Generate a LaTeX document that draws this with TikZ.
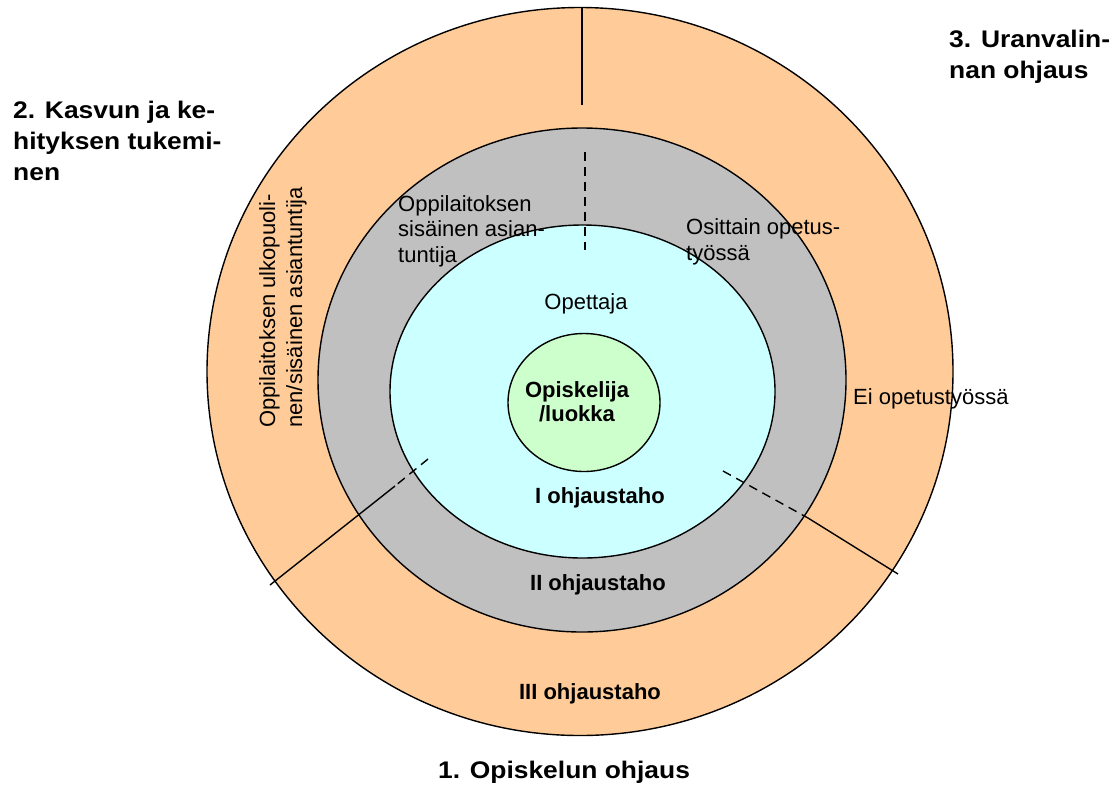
\documentclass[tikz,border=0pt]{standalone}
\usepackage{fontspec}
\setmainfont{Liberation Sans}
\newfontfamily\headfont[FakeStretch=1.1]{Liberation Sans}
\definecolor{ringorange}{HTML}{FFCC99}
\definecolor{ringgray}{HTML}{C0C0C0}
\definecolor{ringcyan}{HTML}{CCFFFF}
\definecolor{ringgreen}{HTML}{CCFFCC}
\tikzset{
  ring/.style={draw, line width=1.4pt},
  head/.style={font=\headfont\fontsize{24}{31}\selectfont\bfseries, align=left, inner sep=0pt},
  lbl/.style={font=\fontsize{22}{25.5}\selectfont, align=left, inner sep=0pt},
  taho/.style={font=\fontsize{22}{23.5}\selectfont\bfseries, inner sep=0pt},
  divider/.style={line width=1.4pt},
}
\begin{document}
\begin{tikzpicture}[x=1pt, y=-1pt]
  \useasboundingbox (0,0) rectangle (1118,788);
  \filldraw[ring, fill=ringorange] (580,371.5) ellipse [x radius=373pt, y radius=364pt];
  \filldraw[ring, fill=ringgray] (582,380) ellipse [x radius=264pt, y radius=252pt];
  \filldraw[ring, fill=ringcyan] (582.5,391.5) ellipse [x radius=192.5pt, y radius=166.5pt];
  \filldraw[ring, fill=ringgreen] (584,402.5) ellipse [x radius=76pt, y radius=69pt];
  % dividers
  \coordinate (top1) at (582,8);
  \coordinate (top2) at (582,105);
  \coordinate (top3) at (585,152);
  \coordinate (top4) at (585,250);
  \coordinate (left1) at (428,459);
  \coordinate (left2) at (395,486);
  \coordinate (left3) at (270,585);
  \coordinate (right1) at (723,471);
  \coordinate (right2) at (808,518);
  \coordinate (right3) at (898,574);
  \draw[divider] (top1) -- (top2);
  \draw[divider, dash pattern=on 9pt off 6pt] (top3) -- (top4);
  \draw[divider, dash pattern=on 9pt off 6pt] (left1) -- (left2);
  \draw[divider] (left2) -- (left3);
  \draw[divider, dash pattern=on 9pt off 6pt] (right1) -- (right2);
  \draw[divider] (right2) -- (right3);
  % texts
  \node[head, anchor=base west] (kasvu) at (13,180) {2. Kasvun ja ke-\\hityksen tukemi-\\nen};
  \node[head, anchor=base west] (ura) at (949,78) {3. Uranvalin-\\nan ohjaus};
  \node[head, anchor=base] (opiskelu) at (564,778) {1. Opiskelun ohjaus};
  \node[taho, anchor=base] (taho3) at (590,699) {III ohjaustaho};
  \node[taho, anchor=base] (taho2) at (598,590) {II ohjaustaho};
  \node[taho, anchor=base] (taho1) at (600,503) {I ohjaustaho};
  \node[taho, align=center, anchor=base] (opiskelija) at (577,421) {Opiskelija\\/luokka};
  \node[lbl, anchor=base] (opettaja) at (586,309) {Opettaja};
  \node[lbl, anchor=base west] (sisainen) at (398,262) {Oppilaitoksen\\sisäinen asian-\\tuntija};
  \node[lbl, anchor=base west] (osittain) at (686,260) {Osittain opetus-\\työssä};
  \node[lbl, anchor=base west] (eiopetus) at (853,404) {Ei opetustyössä};
  \node[lbl, font=\fontsize{22}{27}\selectfont, rotate=90, anchor=base west] (ulkopuoli) at (302,428) {Oppilaitoksen ulkopuoli-\\nen/sisäinen asiantuntija};
\end{tikzpicture}
\end{document}
